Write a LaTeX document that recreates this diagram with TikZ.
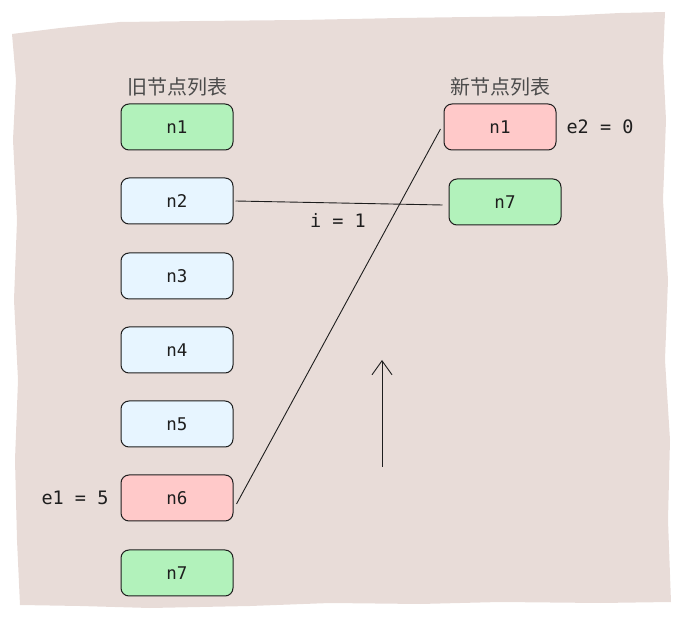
\documentclass[tikz,border=0pt]{standalone}
\usepackage{fontspec}
\newfontfamily\cjk{Noto Sans CJK SC}
\newfontfamily\mono{DejaVu Sans Mono}
\usetikzlibrary{arrows.meta}
\definecolor{paper}{HTML}{E8DCD8}
\definecolor{ink}{HTML}{1E1E1E}
\definecolor{gfill}{HTML}{B2F2BB}
\definecolor{bfill}{HTML}{E7F5FF}
\definecolor{rfill}{HTML}{FFC9C9}
\tikzset{
  box/.style={draw=ink, line width=1pt, rounded corners=8pt, minimum width=112pt, minimum height=46pt, inner sep=0pt, font=\mono\fontsize{17.5}{20}\selectfont, text=ink},
  green/.style={box, fill=gfill},
  blue/.style={box, fill=bfill},
  red/.style={box, fill=rfill},
  title/.style={font=\cjk\fontsize{20}{22}\selectfont, text=ink!80},
  lbl/.style={font=\mono\fontsize{18.5}{20}\selectfont, text=ink},
  conn/.style={draw=ink, line width=0.9pt},
}
\begin{document}
\begin{tikzpicture}[x=1pt,y=-1pt]
\useasboundingbox (0,0) rectangle (681,628);
\fill[paper] (12,34) -- (60,28) -- (120,22) -- (200,21) -- (300,20) -- (400,18) -- (470,17) -- (560,16) -- (620,13) -- (665,12)
  -- (663,60) -- (666,120) -- (663,200) -- (668,280) -- (665,360) -- (670,440) -- (668,520) -- (671,602)
  -- (600,603) -- (500,602) -- (420,604) -- (330,603) -- (250,606) -- (150,608) -- (80,606) -- (20,605)
  -- (17,540) -- (15,460) -- (18,380) -- (14,300) -- (17,220) -- (13,140) -- (16,80) -- cycle;

\node[title] (t1) at (177,87) {旧节点列表};
\node[title] (t2) at (500,87) {新节点列表};

\node[green] (o1) at (177,127) {n1};
\node[blue]  (o2) at (177,201) {n2};
\node[blue]  (o3) at (177,276) {n3};
\node[blue]  (o4) at (177,350) {n4};
\node[blue]  (o5) at (177,424) {n5};
\node[red]   (o6) at (177,498) {n6};
\node[green] (o7) at (177,573) {n7};

\node[red]   (m1) at (500,127) {n1};
\node[green] (m7) at (505,202) {n7};

\node[lbl] (e2) at (600,127) {e2 = 0};
\node[lbl] (e1) at (75,498) {e1 = 5};
\node[lbl] (ii) at (338,220) {i = 1};

\draw[conn] ([xshift=2pt]o2.east) -- ([xshift=-6pt,yshift=-3pt]m7.west);
\draw[conn] ([xshift=3pt,yshift=-6pt]o6.east) -- ([xshift=-3pt,yshift=-2pt]m1.west);

\coordinate (s) at (382,467);
\coordinate (f) at (382,360);
\draw[conn, -{Straight Barb[length=14pt,width=20pt]}] (s) -- (f);
\end{tikzpicture}
\end{document}
